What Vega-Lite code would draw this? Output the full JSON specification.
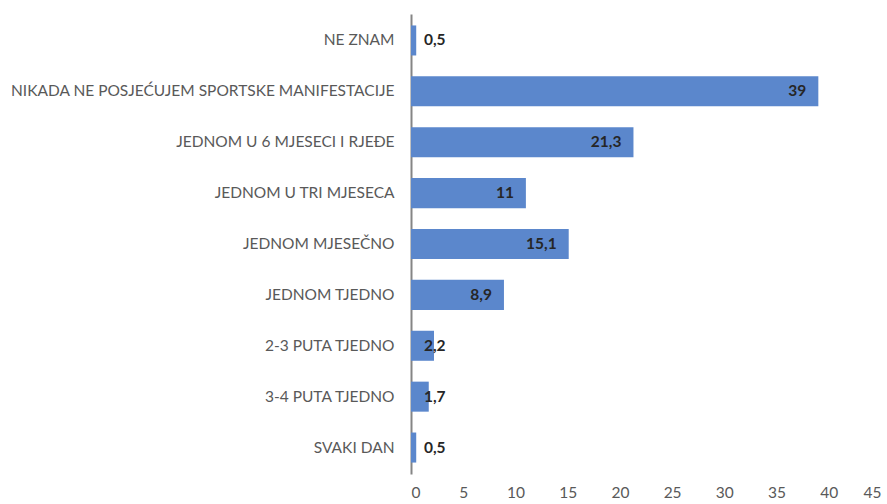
{
  "$schema": "https://vega.github.io/schema/vega-lite/v6.json",
  "width": 470,
  "height": 460,
  "autosize": "none",
  "padding": {"left": 411, "top": 14, "right": 6, "bottom": 30},
  "background": "white",
  "config": {"view": {"stroke": null}, "font": "Lato"},
  "data": {"values": [
    {"cat": "NE ZNAM", "value": 0.5, "label": "0,5"},
    {"cat": "NIKADA NE POSJEĆUJEM SPORTSKE MANIFESTACIJE", "value": 39, "label": "39"},
    {"cat": "JEDNOM U 6 MJESECI I RJEĐE", "value": 21.3, "label": "21,3"},
    {"cat": "JEDNOM U TRI MJESECA", "value": 11, "label": "11"},
    {"cat": "JEDNOM MJESEČNO", "value": 15.1, "label": "15,1"},
    {"cat": "JEDNOM TJEDNO", "value": 8.9, "label": "8,9"},
    {"cat": "2-3 PUTA TJEDNO", "value": 2.2, "label": "2,2"},
    {"cat": "3-4 PUTA TJEDNO", "value": 1.7, "label": "1,7"},
    {"cat": "SVAKI DAN", "value": 0.5, "label": "0,5"}
  ]},
  "encoding": {
    "y": {"field": "cat", "type": "nominal", "sort": null, "title": null,
      "scale": {"paddingInner": 0.41, "paddingOuter": 0.225},
      "axis": {"domainColor": "#858585", "domainWidth": 2, "ticks": false, "labelPadding": 17, "labelFontSize": 15.5, "labelColor": "#595959", "labelFont": "Lato", "labelLimit": 500}}
  },
  "layer": [
    {"mark": {"type": "bar", "color": "#5B87CC"},
     "encoding": {"x": {"field": "value", "type": "quantitative", "title": null,
       "scale": {"domain": [0, 45], "nice": false},
       "axis": {"values": [0,5,10,15,20,25,30,35,40,45], "domain": false, "ticks": false, "grid": false, "labelPadding": 11, "labelFontSize": 15.5, "labelColor": "#595959", "labelFont": "Lato"}}}},
    {"transform": [{"filter": "datum.value >= 5"}],
     "mark": {"type": "text", "align": "right", "dx": -12, "fontWeight": "bold", "fontSize": 15.5, "color": "#262626", "font": "Lato"},
     "encoding": {"x": {"field": "value", "type": "quantitative"}, "text": {"field": "label"}}},
    {"transform": [{"filter": "datum.value < 5"}],
     "mark": {"type": "text", "align": "left", "dx": 13, "fontWeight": "bold", "fontSize": 15.5, "color": "#262626", "font": "Lato"},
     "encoding": {"x": {"datum": 0, "type": "quantitative"}, "text": {"field": "label"}}}
  ]
}
